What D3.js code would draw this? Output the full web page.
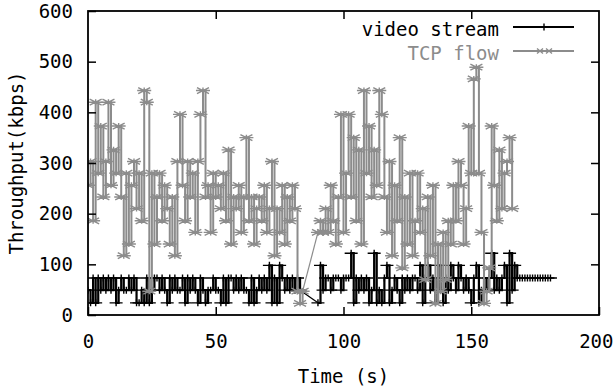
<!DOCTYPE html>
<html>
<head>
<meta charset="utf-8">
<script src="https://d3js.org/d3.v7.min.js"></script>
<style>
  body { margin: 0; background: #fff; }
  text { font-family: "DejaVu Sans Mono", monospace; }
</style>
</head>
<body>
<script>
// TCP flow samples (s, kbps)
var tcpTime = [0,1,2,3,4,5,6,7,8,9,10,11,12,13,14,15,16,17,18,19,20,21,22,23,24,25,26,27,28,29,
  30,31,32,33,34,35,36,37,38,39,40,41,42,43,44,45,46,47,48,49,50,51,52,53,54,55,56,57,58,59,
  60,61,62,63,64,65,66,67,68,69,70,71,72,73,74,75,76,77,78,79,80,81,82,83,84,
  90,91,92,93,94,95,96,97,98,99,100,101,102,103,104,105,106,107,108,109,110,111,112,113,114,115,116,117,118,119,
  120,121,122,123,124,125,126,127,128,129,130,131,132,133,134,135,136,137,138,139,140,141,142,143,144,145,146,147,148,149,
  150,151,152,153,154,155,156,157,158,159,160,161,162,163,164,165,166];
var tcpKbps = [256,303,186,420,280,373,233,303,420,256,326,280,373,233,117,280,140,256,303,210,280,186,443,420,47,280,140,233,280,186,
  256,210,140,233,117,303,396,256,186,303,233,280,163,303,396,443,233,256,163,280,233,256,210,280,186,326,140,233,210,256,
  163,233,350,186,233,140,210,233,186,256,163,210,303,117,210,163,256,140,233,186,256,210,47,23,47,
  163,186,163,210,163,256,186,140,233,396,163,280,396,233,350,186,326,140,443,280,373,233,326,256,443,396,233,163,303,117,
  256,186,350,93,233,140,280,117,186,280,163,210,70,233,117,256,23,140,47,163,70,186,140,256,186,303,256,140,210,373,
  280,466,489,280,163,23,47,93,373,256,186,326,210,280,303,350,210];

// video stream samples (s, kbps)
var videoTime = [0,1,2,3,4,5,6,7,8,9,10,11,12,13,14,15,16,17,18,19,20,21,22,23,24,25,26,27,28,29,
  30,31,32,33,34,35,36,37,38,39,40,41,42,43,44,45,46,47,48,49,50,51,52,53,54,55,56,57,58,59,
  60,61,62,63,64,65,66,67,68,69,70,71,72,73,74,75,76,77,78,79,80,81,82,83,
  90,91,92,93,94,95,96,97,98,99,100,101,102,103,104,105,106,107,108,109,110,111,112,113,114,115,116,117,118,119,
  120,121,122,123,124,125,126,127,128,129,130,131,132,133,134,135,136,137,138,139,140,141,142,143,144,145,146,147,148,149,
  150,151,152,153,154,155,156,157,158,159,160,161,162,163,164,165,166,167,168,169,170,171,172,173,174,175,176,177,178,179,180,181];
var videoKbps = [49,24,73,24,73,49,73,49,73,49,73,24,49,73,49,49,73,49,73,24,24,49,24,73,24,49,73,73,49,73,
  49,24,73,49,73,49,49,73,24,73,49,73,49,24,73,49,24,49,49,73,49,49,24,73,24,73,73,49,73,49,
  73,49,49,24,73,24,49,73,49,73,49,98,24,73,24,98,73,49,73,49,73,49,73,49,
  24,98,49,73,73,49,73,73,73,49,73,73,73,122,24,73,49,73,49,73,24,49,122,24,49,24,73,98,24,49,
  73,49,24,73,49,73,49,73,73,49,98,24,73,98,49,73,24,98,49,24,73,49,98,73,49,98,73,49,73,49,
  24,73,98,24,49,73,49,73,122,49,73,49,73,98,24,122,49,98,73,73,73,73,73,73,73,73,73,73,73,73,73,73];

var xTicks = [0, 50, 100, 150, 200];
var yTicks = [0, 100, 200, 300, 400, 500, 600];
var seriesNames = ["video stream", "TCP flow"];

(function() {
  var W = 614, H = 392;
  var mLeft = 88, mRight = 599, mTop = 11, mBottom = 315;
  var grey = "#8c8c8c";

  var svg = d3.select("body").append("svg")
    .attr("width", W)
    .attr("height", H);

  var x = d3.scaleLinear().domain([0, 200]).range([mLeft, mRight]);
  var y = d3.scaleLinear().domain([0, 600]).range([mBottom, mTop]);

  svg.append("clipPath").attr("id", "plot")
    .append("rect")
    .attr("x", mLeft).attr("y", mTop)
    .attr("width", mRight - mLeft).attr("height", mBottom - mTop);

  var plusPath = "M-6.5,0H6.5M0,-3.5V3.5";
  var starPath = "M-7,0H7M-6,-3L6,3M-6,3L6,-3M0,-3V3";

  var stepLine = d3.line()
    .curve(d3.curveStepAfter)
    .x(function(d) { return x(d[0]); })
    .y(function(d) { return y(d[1]); });
  var straight = d3.line()
    .x(function(d) { return x(d[0]); })
    .y(function(d) { return y(d[1]); });

  var video = videoTime.map(function(t, i) { return [t, videoKbps[i]]; });
  var tcp = tcpTime.map(function(t, i) { return [t, tcpKbps[i]]; });

  var plot = svg.append("g").attr("clip-path", "url(#plot)");

  // split at the logging gap: the runs are dense, the gap is a straight join
  function splitRuns(data) {
    var runs = [[data[0]]];
    for (var i = 1; i < data.length; i++) {
      if (data[i][0] - data[i - 1][0] > 2) runs.push([]);
      runs[runs.length - 1].push(data[i]);
    }
    return runs;
  }

  function drawSeries(data, color, width, marker) {
    var runs = splitRuns(data);
    runs.forEach(function(run, i) {
      plot.append("path")
        .datum(run)
        .attr("d", stepLine)
        .attr("fill", "none")
        .attr("stroke", color)
        .attr("stroke-width", width);
      if (i > 0) {
        plot.append("path")
          .datum([runs[i - 1][runs[i - 1].length - 1], run[0]])
          .attr("d", straight)
          .attr("fill", "none")
          .attr("stroke", color)
          .attr("stroke-width", 1.2);
      }
    });
    plot.append("g").selectAll("path")
      .data(data)
      .enter()
      .append("path")
      .attr("d", marker)
      .attr("transform", function(d) { return "translate(" + x(d[0]) + "," + y(d[1]) + ")"; })
      .attr("fill", "none")
      .attr("stroke", color)
      .attr("stroke-width", 1.4);
  }

  drawSeries(video, "#000", 2.2, plusPath);
  drawSeries(tcp, grey, 2, starPath);

  // axes, inward ticks on all four sides
  var xAxis = svg.append("g")
    .attr("transform", "translate(0," + mBottom + ")")
    .call(d3.axisBottom(x).tickValues(xTicks).tickSizeInner(-8).tickSizeOuter(0).tickPadding(20).tickFormat(d3.format("d")));
  svg.append("g")
    .attr("transform", "translate(0," + mTop + ")")
    .call(d3.axisTop(x).tickValues(xTicks.slice(1, 4)).tickSizeInner(-8).tickSizeOuter(0).tickFormat(""));
  svg.append("g")
    .attr("transform", "translate(" + mLeft + ",0)")
    .call(d3.axisLeft(y).tickValues(yTicks).tickSizeInner(-8).tickSizeOuter(0).tickPadding(15).tickFormat(d3.format("d")));
  svg.append("g")
    .attr("transform", "translate(" + mRight + ",0)")
    .call(d3.axisRight(y).tickValues(yTicks.slice(1, 6)).tickSizeInner(-8).tickSizeOuter(0).tickFormat(""));

  svg.selectAll(".domain").remove();
  svg.selectAll(".tick line").attr("stroke", "#000").attr("stroke-width", 1.5);
  svg.selectAll(".tick text")
    .attr("fill", "#000")
    .style("font-family", "'DejaVu Sans Mono', monospace")
    .style("font-size", "19px");
  // keep the last x label inside the window
  xAxis.selectAll(".tick text").filter(function(d) { return d === 200; })
    .attr("text-anchor", "end").attr("x", 14);

  svg.append("rect")
    .attr("x", mLeft).attr("y", mTop)
    .attr("width", mRight - mLeft).attr("height", mBottom - mTop)
    .attr("fill", "none")
    .attr("stroke", "#000")
    .attr("stroke-width", 1.8);

  // axis titles
  svg.append("text")
    .attr("x", (mLeft + mRight) / 2)
    .attr("y", 383)
    .attr("text-anchor", "middle")
    .style("font-size", "19px")
    .text("Time (s)");

  svg.append("text")
    .attr("transform", "translate(23," + ((mTop + mBottom) / 2) + ") rotate(-90)")
    .attr("text-anchor", "middle")
    .style("font-size", "19px")
    .text("Throughput(kbps)");

  // legend
  var legend = svg.append("g");
  var legendColors = ["#000", grey];
  var legendY = [27, 51];
  seriesNames.forEach(function(name, i) {
    legend.append("text")
      .attr("x", 499)
      .attr("y", legendY[i] + 9)
      .attr("text-anchor", "end")
      .attr("fill", legendColors[i])
      .style("font-size", "19px")
      .text(name);
    legend.append("line")
      .attr("x1", 513).attr("x2", 574)
      .attr("y1", legendY[i]).attr("y2", legendY[i])
      .attr("stroke", legendColors[i])
      .attr("stroke-width", 1.8);
  });
  legend.append("path")
    .attr("d", plusPath)
    .attr("transform", "translate(544," + legendY[0] + ")")
    .attr("stroke", "#000").attr("fill", "none").attr("stroke-width", 1.4);
  [540, 549].forEach(function(px) {
    legend.append("path")
      .attr("d", "M-3,0H3M-3,-2.5L3,2.5M-3,2.5L3,-2.5")
      .attr("transform", "translate(" + px + "," + legendY[1] + ")")
      .attr("stroke", grey).attr("fill", "none").attr("stroke-width", 1.4);
  });
}());
</script>
</body>
</html>
